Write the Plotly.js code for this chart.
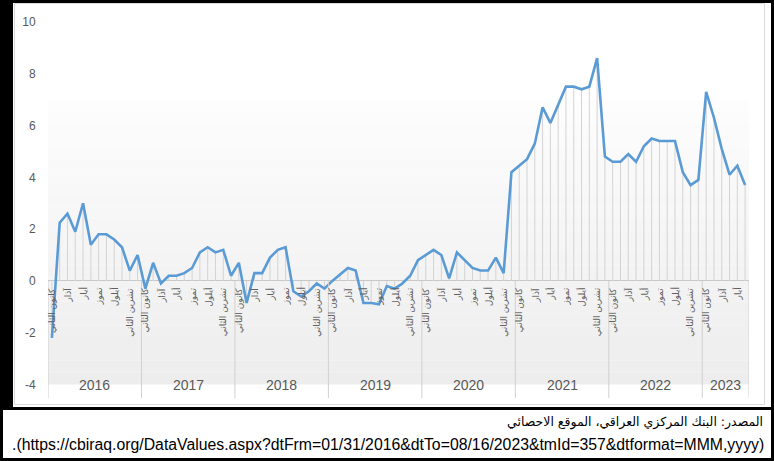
<!DOCTYPE html>
<html>
<head>
<meta charset="utf-8">
<script src="https://cdn.plot.ly/plotly-3.0.1.min.js"></script>
<style>
html,body{margin:0;padding:0;background:#fff;}
#chart{width:774px;height:461px;}
</style>
</head>
<body>
<div id="chart"></div>
<script>
// ---- data ----
const years = ['2016','2017','2018','2019','2020','2021','2022','2023'];
const monthsPerYear = [12,12,12,12,12,12,12,6];
const monthNames = ['كانون الثاني','شباط','آذار','نيسان','أيار','حزيران','تموز','آب','أيلول','تشرين الأول','تشرين الثاني','كانون الأول'];
const v2016 = [-2.2, 2.25, 2.6, 1.9, 3.0, 1.4, 1.8, 1.8, 1.6, 1.3, 0.4, 1.0];
const v2017 = [-0.3, 0.7, -0.1, 0.2, 0.2, 0.3, 0.5, 1.1, 1.3, 1.1, 1.2, 0.2];
const v2018 = [0.7, -0.85, 0.3, 0.3, 0.9, 1.2, 1.3, -0.4, -0.6, -0.4, -0.1, -0.3];
const v2019 = [0.0, 0.25, 0.5, 0.4, -0.85, -0.85, -0.9, -0.2, -0.3, -0.1, 0.2, 0.8];
const v2020 = [1.0, 1.2, 1.0, 0.1, 1.1, 0.8, 0.5, 0.4, 0.4, 0.9, 0.3, 4.2];
const v2021 = [4.45, 4.7, 5.3, 6.7, 6.1, 6.8, 7.5, 7.5, 7.4, 7.5, 8.6, 4.8];
const v2022 = [4.6, 4.6, 4.9, 4.6, 5.2, 5.5, 5.4, 5.4, 5.4, 4.2, 3.7, 3.9];
const v2023 = [7.3, 6.3, 5.1, 4.1, 4.45, 3.7];
const yTicks = [-4,-2,0,2,4,6,8,10];
const sourceLine1 = 'المصدر: البنك المركزي العراقي، الموقع الاحصائي';
const sourceLine2 = '.(https://cbiraq.org/DataValues.aspx?dtFrm=01/31/2016&dtTo=08/16/2023&tmId=357&dtformat=MMM,yyyy)';

// ---- build ----
const values = [].concat(v2016,v2017,v2018,v2019,v2020,v2021,v2022,v2023);
const xs = values.map((_, i) => i);

const W = 774, H = 461;
const M = {l:48, r:25, t:17, b:63};
const PW = W - M.l - M.r, PH = H - M.t - M.b;
const px = p => (p - M.l) / PW;
const py = p => (H - M.b - p) / PH;
const yRange = [-4.52, 10.19];

const shapes = [];
const annotations = [];

// plot-area gradient background (value 7 down to -4)
const bandTop = 7, bandBot = -4, nb = 24;
for (let k = 0; k < nb; k++) {
  const y0 = bandTop - (bandTop - bandBot) * k / nb;
  const y1 = bandTop - (bandTop - bandBot) * (k + 1) / nb;
  const t = (k + 0.5) / nb;
  const c = Math.round(253 - t * 16);
  shapes.push({type:'rect', layer:'below', xref:'x', yref:'y', x0:-0.5, x1:values.length - 0.5,
    y0:y1, y1:y0, line:{width:0}, fillcolor:`rgb(${c},${c},${c})`});
}

// year separators and labels
let start = 0;
years.forEach((yr, j) => {
  const n = monthsPerYear[j];
  shapes.push({type:'line', xref:'x', yref:'y', x0:start - 0.5, x1:start - 0.5, y0:0, y1:yRange[0],
    line:{color:'#d0d0d0', width:1}});
  annotations.push({xref:'x', yref:'y', x:start + (n - 1) / 2, y:-4, text:yr, showarrow:false,
    font:{family:'Liberation Sans Narrow, Liberation Sans, Arial', size:14, color:'#595959'}});
  for (let m = 0; m < n; m += 2) {
    annotations.push({xref:'x', yref:'y', x:start + m, y:-0.18, text:monthNames[m], showarrow:false,
      textangle:-90, yanchor:'top', xanchor:'center',
      font:{family:'DejaVu Sans, Noto Sans', size:9, color:'#606060'}});
  }
  start += n;
});
shapes.push({type:'line', xref:'x', yref:'y', x0:start - 0.5, x1:start - 0.5, y0:0, y1:yRange[0],
  line:{color:'#d0d0d0', width:1}});

// frame
shapes.push({type:'rect', xref:'paper', yref:'paper', x0:px(14.5), x1:px(764.5), y0:py(3.5), y1:py(404.5),
  line:{color:'#d9d9d9', width:1}, fillcolor:'rgba(0,0,0,0)', layer:'below'});
shapes.push({type:'rect', xref:'paper', yref:'paper', x0:px(0), x1:px(13), y0:py(0), y1:py(409),
  line:{width:0}, fillcolor:'#000'});
shapes.push({type:'line', xref:'paper', yref:'paper', x0:px(0), x1:px(774), y0:py(408.5), y1:py(408.5),
  line:{color:'#000', width:3}});
shapes.push({type:'rect', xref:'paper', yref:'paper', x0:px(1.5), x1:px(772.5), y0:py(1.5), y1:py(459.5),
  line:{color:'#000', width:3}, fillcolor:'rgba(0,0,0,0)'});

// source
annotations.push({xref:'paper', yref:'paper', x:px(765), y:py(422), xanchor:'right', yanchor:'middle',
  text:sourceLine1, showarrow:false, font:{family:'DejaVu Sans, Noto Sans', size:12.5, color:'#000'}});
annotations.push({xref:'paper', yref:'paper', x:px(766), y:py(444), xanchor:'right', yanchor:'middle',
  text:sourceLine2, showarrow:false, font:{family:'Liberation Sans Narrow, Liberation Sans, Arial', size:15.8, color:'#000'}});

const traces = [
  {type:'bar', x:xs, y:values, width:0.13, marker:{color:'#d4d4d4', line:{width:0}},
   hoverinfo:'skip', showlegend:false},
  {type:'scatter', mode:'lines', x:xs, y:values, line:{color:'#5b9bd5', width:2.6},
   showlegend:false}
];

const layout = {
  width:W, height:H, margin:M,
  paper_bgcolor:'#ffffff', plot_bgcolor:'rgba(0,0,0,0)',
  showlegend:false,
  xaxis:{range:[-0.5, values.length - 0.5], showgrid:false, zeroline:false, showline:false,
    showticklabels:false, ticks:'', fixedrange:true},
  yaxis:{range:yRange, tickvals:yTicks, ticktext:yTicks.map(String), showgrid:false,
    zeroline:true, zerolinecolor:'#c8c8c8', zerolinewidth:1, showline:false,
    ticks:'outside', ticklen:9, tickcolor:'rgba(0,0,0,0)',
    tickfont:{family:'Liberation Sans Narrow, Liberation Sans, Arial', size:12, color:'#595959'}},
  shapes:shapes, annotations:annotations
};

Plotly.newPlot('chart', traces, layout, {staticPlot:true, displayModeBar:false});
</script>
</body>
</html>
